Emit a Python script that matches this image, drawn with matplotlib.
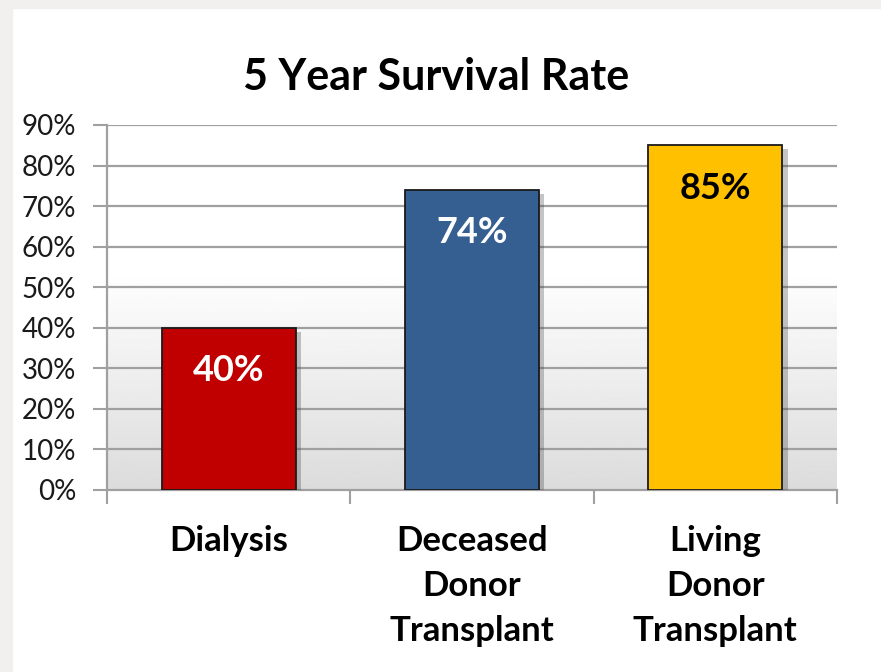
import matplotlib
matplotlib.use("Agg")
import matplotlib.pyplot as plt
import matplotlib.patheffects as pe
import numpy as np

categories = ["Dialysis", "Deceased\nDonor\nTransplant", "Living\nDonor\nTransplant"]
values = [0.40, 0.74, 0.85]
labels = ["40%", "74%", "85%"]
colors = ["#c00000", "#365f91", "#ffc000"]
label_colors = ["white", "white", "black"]
yticks = [0.0, 0.1, 0.2, 0.3, 0.4, 0.5, 0.6, 0.7, 0.8, 0.9]

plt.rcParams['font.family'] = ['Lato', 'DejaVu Sans']

fig = plt.figure(figsize=(8.81, 6.72), dpi=100)
fig.patch.set_facecolor("white")

# gray frame strips around the slide panel
fig.patches.append(plt.Rectangle((0, 0), 12/881, 1, transform=fig.transFigure,
                                 color="#f2f0ef", zorder=0))
fig.patches.append(plt.Rectangle((0, 1 - 8/672), 1, 8/672, transform=fig.transFigure,
                                 color="#f2f0ef", zorder=0))

ax = fig.add_axes([107/881, 1 - 490/672, (837 - 107)/881, (490 - 125)/672])

# background gradient: white at top, gray towards bottom
t = np.linspace(0, 1, 256)
shade = np.where(t < 0.4, 1.0, 1.0 - (t - 0.4) / 0.6 * 0.14)
grad = np.repeat(shade[:, None], 2, axis=1)
ax.imshow(grad, cmap="gray", vmin=0, vmax=1, aspect="auto",
          extent=[-0.5, 2.5, 0, 0.9], origin="upper", zorder=0)
ax.set_xlim(-0.5, 2.5)
ax.set_ylim(0, 0.9)

for y in yticks[1:]:
    ax.axhline(y, color="#a0a0a0", lw=1.6, zorder=1)

x = np.arange(len(categories))
bars = ax.bar(x, values, width=0.55, color=colors, edgecolor="#1a1a1a",
              linewidth=1.3, zorder=3)
for b in bars:
    b.set_path_effects([pe.SimplePatchShadow(offset=(4, -3), alpha=0.3,
                                             shadow_rgbFace="#404040"),
                        pe.Normal()])

for xi, v, lab, lc in zip(x, values, labels, label_colors):
    ax.text(xi, v - 0.065, lab, ha="center", va="top", fontsize=26,
            fontweight="bold", color=lc, zorder=4)

ax.set_yticks(yticks)
ax.set_yticklabels([f"{int(round(v*100))}%" for v in yticks], fontsize=20,
                   color="#1a1a1a")
ax.set_xticks([-0.5, 0.5, 1.5, 2.5])
ax.set_xticklabels([])
ax.set_xticks(x, minor=True)
ax.set_xticklabels(categories, minor=True, fontsize=25, fontweight="bold",
                   linespacing=1.5, va="top")
ax.tick_params(axis="x", which="minor", length=0, pad=25)
ax.tick_params(axis="x", which="major", length=10, width=1.5, color="#a0a0a0")
ax.tick_params(axis="y", length=10, width=1.5, color="#a0a0a0", pad=12)

for s in ["top", "right"]:
    ax.spines[s].set_visible(False)
for s in ["left", "bottom"]:
    ax.spines[s].set_color("#a0a0a0")
    ax.spines[s].set_linewidth(1.6)

fig.text(436/881, 1 - 77/672, "5 Year Survival Rate", ha="center", va="center",
         fontsize=31, fontweight="bold", color="black")

fig.savefig("out.png", dpi=100, facecolor=fig.get_facecolor())
